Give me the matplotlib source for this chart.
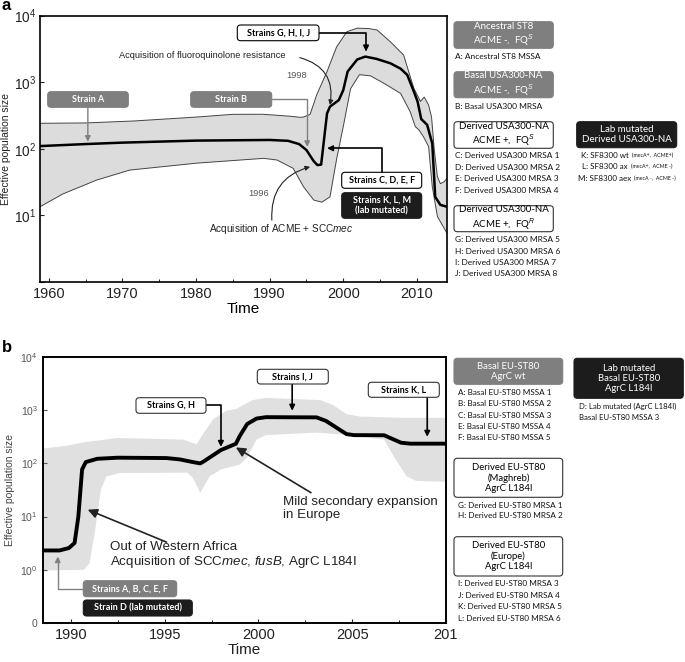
import numpy as np
import matplotlib.pyplot as plt
from matplotlib.patches import FancyBboxPatch

plt.rcParams['font.family'] = ['Liberation Sans', 'DejaVu Sans']
plt.rcParams['mathtext.fontset'] = 'custom'
plt.rcParams['mathtext.rm'] = 'Liberation Sans'
plt.rcParams['mathtext.it'] = 'Liberation Sans:italic'
plt.rcParams['mathtext.bf'] = 'Liberation Sans:bold'

# ---- panel a: USA300 skyline (year, effective population size) ----
a_med_year = [1958.8, 1965, 1970, 1980, 1990, 1992.5, 1994, 1995, 1996, 1996.5, 1997.0,
              1997.8, 1998.2, 1999.4, 2000.0, 2000.6, 2001.9, 2003.0, 2004.5, 2006.4,
              2007.8, 2008.7, 2009.6, 2010.1, 2010.6, 2011.4, 2012.1, 2012.5, 2013.2, 2014.1]
a_med = [110, 118, 124, 133, 136, 132, 118, 96, 65, 57, 58,
         340, 430, 540, 760, 1450, 2200, 2430, 2250, 1930,
         1600, 1290, 725, 515, 280, 230, 120, 19, 14.4, 13.5]

a_hi_year = [1958.8, 1965, 1971.5, 1980, 1985, 1989, 1992.8, 1994.1, 1994.6, 1995.5,
             1996.4, 1997.8, 1999.1, 2000.5, 2001.9, 2003.5, 2004.6, 2006.4, 2008.2,
             2009.6, 2010.5, 2011.0, 2011.6, 2012.0, 2012.4, 2012.8, 2013.2, 2013.7, 2014.1]
a_hi = [242, 245, 262, 300, 330, 331, 309, 298, 300, 330,
        650, 1450, 3400, 5750, 6500, 6400, 6100, 4060, 2570,
        810, 515, 600, 455, 300, 90, 38, 30, 32, 36]

a_lo_year = [1958.8, 1961.9, 1966.5, 1971.0, 1980.1, 1989.2, 1991.0, 1993.2, 1994.6,
             1996.0, 1997.1, 1998.2, 1999.1, 2000.0, 2001.0, 2002.2, 2003.7, 2005.5,
             2007.8, 2009.1, 2009.8, 2010.3, 2010.9, 2011.6, 2012.1, 2012.8, 2014.1]
a_lo = [13.5, 21, 34, 48, 61, 72, 68, 51, 27,
        17, 15.8, 19, 70, 215, 800, 1300, 1250, 970,
        680, 360, 215, 192, 152, 108, 27, 9.6, 5.4]

# ---- panel b: EU-ST80 skyline ----
b_med_year = [1988.5, 1989.4, 1989.9, 1990.2, 1990.4, 1990.6, 1990.8, 1991.4, 1992.5,
              1995.1, 1995.8, 1996.5, 1996.9, 1997.1, 1998.0, 1998.8, 1999.0, 1999.4,
              1999.9, 2000.4, 2003.1, 2003.6, 2004.7, 2005.1, 2006.7, 2007.6, 2008.1, 2010.0]
b_med = [2.31, 2.31, 2.57, 3.2, 10, 77, 106, 122, 128,
         126, 119, 106, 100, 110, 178, 234, 325, 550,
         697, 740, 733, 630, 355, 340, 338, 245, 235, 235]

b_hi_year = [1988.5, 1989.8, 1990.7, 1992.5, 1996.0, 1996.7, 1997.1, 1997.6, 1998.3,
             1998.8, 1999.7, 2000.4, 2003.3, 2004.0, 2004.7, 2005.4, 2007.6, 2010.0]
b_hi = [190, 215, 250, 300, 280, 228, 380, 680, 980,
        1050, 1550, 1700, 1550, 1240, 840, 760, 720, 720]

b_lo_year = [1988.5, 1990.7, 1991.0, 1991.3, 1991.6, 1991.9, 1992.6, 1996.2, 1996.5,
             1996.9, 1997.1, 1997.4, 1998.0, 1999.0, 1999.4, 1999.9, 2000.4, 2003.1,
             2004.9, 2006.7, 2007.2, 2007.9, 2008.4, 2010.0]
b_lo = [0.97, 1.0, 1.34, 5.7, 32, 57, 66, 67, 54,
        28, 37, 57, 77, 95, 129, 280, 340, 380,
        340, 280, 138, 57, 47, 45]

W, H = 685, 662
fig = plt.figure(figsize=(6.85, 6.62), dpi=100)
renderer = fig.canvas.get_renderer()


def fx(px):
    return px / W


def fy(py):
    return 1 - py / H


def box(x0, y0, x1, y1, fc, ec, txt, tc, size, weight='bold', family='Lato', ls=1.15):
    p = FancyBboxPatch((fx(x0), fy(y1)), (x1 - x0) / W, (y1 - y0) / H,
                       boxstyle='round,pad=0,rounding_size=0.005',
                       transform=fig.transFigure, fc=fc, ec=ec, lw=0.8, zorder=5)
    fig.add_artist(p)
    fig.text(fx((x0 + x1) / 2), fy((y0 + y1) / 2), txt, ha='center', va='center',
             color=tc, fontsize=size, fontweight=weight, family=family,
             linespacing=ls, zorder=6)


def elbow(ax, start, end, color, conn, lw=1.2, ms=8):
    ax.annotate('', xy=end, xytext=start,
                arrowprops=dict(arrowstyle='-|>', color=color, lw=lw, shrinkA=0, shrinkB=0,
                                mutation_scale=ms, connectionstyle=conn))


def note(px, py, txt, size=6.0, ha='left'):
    return fig.text(fx(px), fy(py), txt, fontsize=size, va='center', ha=ha,
                    family='Lato', color='#111111')


# ================= panel a =================
ax = fig.add_axes([fx(40), fy(282), (447 - 40) / W, (282 - 15.7) / H])
ax.fill(np.r_[a_hi_year, a_lo_year[::-1]], np.r_[a_hi, a_lo[::-1]],
        fc='#dcdcdc', ec='none', zorder=1)
ax.plot(a_hi_year, a_hi, color='#444444', lw=0.7, zorder=2)
ax.plot(a_lo_year, a_lo, color='#444444', lw=0.7, zorder=2)
ax.plot(a_med_year, a_med, color='black', lw=1.8, zorder=3)
ax.set_yscale('log')
ax.set_xlim(1958.8, 2014.1)
ax.set_ylim(1, 1e4)
ax.set_yticks([1, 10, 100, 1000, 10000])
ax.set_yticklabels(['', '$10^1$', '$10^2$', '$10^3$', '$10^4$'])
ax.yaxis.set_minor_locator(plt.NullLocator())
ax.set_xticks([1960, 1970, 1980, 1990, 2000, 2010])
ax.set_xticks(np.arange(1965, 2014, 10), minor=True)
ax.tick_params(direction='in', labelsize=10.5, colors='#222222', length=3)
ax.tick_params(axis='y', labelsize=9.8, pad=2.5)
ax.tick_params(which='minor', direction='in', length=2)
for s in ax.spines.values():
    s.set_linewidth(1.2)
ax.set_xlabel('Time', fontsize=11, labelpad=1)
ax.set_ylabel('Effective population size', fontsize=7.5, color='#222222')
ax.yaxis.set_label_coords(-0.071, 0.5)

# annotations in panel a
box(47.7, 91.7, 128.3, 107.3, '#7f7f7f', '#7f7f7f', 'Strain A', 'white', 6.5)
box(190.7, 91.7, 271.7, 107.3, '#7f7f7f', '#7f7f7f', 'Strain B', 'white', 6.5)
box(237.3, 25, 319, 40.7, 'white', 'black', 'Strains G, H, I, J', 'black', 6.5)
box(341.7, 172.3, 421.7, 188.3, 'white', 'black', 'Strains C, D, E, F', 'black', 6.5)
box(341.7, 192.7, 421.7, 218.3, '#1c1c1c', '#1c1c1c', 'Strains K, L, M\n(lab mutated)',
    'white', 6.5)

elbow(ax, (1965.3, 422), (1965.3, 128), '#808080', 'arc3,rad=0', lw=1.0)
elbow(ax, (1990.3, 556), (1995.1, 107), '#808080', 'angle,angleA=0,angleB=90,rad=0', lw=1.0)
elbow(ax, (1996.7, 5530), (2003.1, 2900), 'black', 'angle,angleA=0,angleB=90,rad=0')
elbow(ax, (2005.3, 44.6), (1997.8, 102), 'black', 'angle,angleA=90,angleB=0,rad=0')

ax.text(1980.9, 10 ** 3.40, 'Acquisition of fluoroquinolone resistance', ha='center',
        va='center', fontsize=6.7, color='#222222')
ax.annotate('', xy=(1998.2, 455), xytext=(1994.1, 10 ** 3.37),
            arrowprops=dict(arrowstyle='-|>', color='#222222', lw=0.8, shrinkA=0, shrinkB=0,
                            mutation_scale=7, connectionstyle='arc3,rad=-0.45'))
ax.text(1993.7, 10 ** 3.095, '1998', ha='center', va='center', fontsize=6.7, color='#555555')
ax.text(1988.5, 10 ** 1.33, '1996', ha='center', va='center', fontsize=6.7, color='#555555')
ax.text(1991.6, 10 ** 0.79, 'Acquisition of ACME + SCC$\\mathit{mec}$', ha='center',
        va='center', fontsize=7.2, color='#222222')
ax.annotate('', xy=(1995.5, 10 ** 1.73), xytext=(1990.3, 10 ** 0.93),
            arrowprops=dict(arrowstyle='-|>', color='#222222', lw=0.8, shrinkA=0, shrinkB=0,
                            mutation_scale=7, connectionstyle='arc3,rad=-0.4'))

fig.text(fx(2), fy(6), 'a', fontsize=12, fontweight='bold', va='center')

# right side legend, panel a
box(454, 21.7, 553.3, 48.3, '#7f7f7f', '#7f7f7f', 'Ancestral ST8\nACME -,  FQ$^S$',
    'white', 7.0, weight='normal')
note(455, 56.7, 'A: Ancestral ST8 MSSA')
box(454, 71.7, 553.3, 97.7, '#7f7f7f', '#7f7f7f', 'Basal USA300-NA\nACME -,  FQ$^S$',
    'white', 7.0, weight='normal')
note(455, 106.7, 'B: Basal USA300 MRSA')
box(454, 121.7, 553.3, 148.3, 'white', '#333333', 'Derived USA300-NA\nACME +,  FQ$^S$',
    'black', 7.0, weight='normal')
for i, t in enumerate(['C: Derived USA300 MRSA 1', 'D: Derived USA300 MRSA 2',
                       'E: Derived USA300 MRSA 3', 'F: Derived USA300 MRSA 4']):
    note(455, 155.7 + 11.45 * i, t)
box(454, 205.7, 553.3, 231.7, 'white', '#333333', 'Derived USA300-NA\nACME +,  FQ$^R$',
    'black', 7.0, weight='normal')
for i, t in enumerate(['G: Derived USA300 MRSA 5', 'H: Derived USA300 MRSA 6',
                       'I: Derived USA300 MRSA 7', 'J: Derived USA300 MRSA 8']):
    note(455, 240 + 11.3 * i, t)
box(576.7, 121.7, 676.7, 147.7, '#1c1c1c', '#1c1c1c', 'Lab mutated\nDerived USA300-NA',
    'white', 7.0, weight='normal')
# main label + small parenthetical, the pair centred under the black box
for py, t, s in [(155.7, 'K: SF8300 wt', '(mecA+,  ACME+)'),
                 (166.7, 'L: SF8300 ax', '(mecA+,  ACME -)'),
                 (178.3, 'M: SF8300 aex', '(mecA -,  ACME -)')]:
    t1 = note(0, py, t, 5.8)
    t2 = note(0, py, s, 3.8)
    w1 = t1.get_window_extent(renderer).width
    w2 = t2.get_window_extent(renderer).width
    x0 = 627 - (w1 + 3 + w2) / 2
    t1.set_x(fx(x0))
    t2.set_x(fx(x0 + w1 + 3))

# ================= panel b =================
bx = fig.add_axes([fx(42.7), fy(623), (446 - 42.7) / W, (623 - 357) / H])
bx.fill(np.r_[b_hi_year, b_lo_year[::-1]], np.r_[b_hi, b_lo[::-1]],
        fc='#e0e0e0', ec='none', zorder=1)
bx.plot(b_med_year, b_med, color='black', lw=2.8, zorder=3, solid_capstyle='butt')
bx.set_yscale('log')
bx.set_xlim(1988.5, 2010)
bx.set_ylim(0.1, 1e4)
bx.set_yticks([0.1, 1, 10, 100, 1000, 10000])
bx.set_yticklabels(['0', '$10^0$', '$10^1$', '$10^2$', '$10^3$', '$10^4$'])
bx.yaxis.set_minor_locator(plt.NullLocator())
bx.set_xticks([1990, 1995, 2000, 2005, 2010])
bx.set_xticklabels(['1990', '1995', '2000', '2005', '201'])
bx.set_xticks(np.arange(1992.5, 2010, 2.5), minor=True)
bx.tick_params(axis='x', direction='in', labelsize=10.5, colors='#222222', length=3)
bx.tick_params(axis='y', direction='in', labelsize=7.5, colors='#555555', length=3)
bx.tick_params(which='minor', direction='in', length=2)
for s in bx.spines.values():
    s.set_linewidth(1.4)
bx.set_xlabel('Time', fontsize=11, labelpad=1, color='#222222')
bx.set_ylabel('Effective population size', fontsize=7.5, color='#444444')
bx.yaxis.set_label_coords(-0.068, 0.5)

box(257.3, 369.3, 328.3, 384, 'white', '#333333', 'Strains I, J', 'black', 6.5)
box(368.3, 382.3, 439.3, 397.3, 'white', '#333333', 'Strains K, L', 'black', 6.5)
box(136, 397.7, 206, 413.3, 'white', '#333333', 'Strains G, H', 'black', 6.5)
box(83.3, 580.7, 176.7, 596.7, '#7f7f7f', '#7f7f7f', 'Strains A, B, C, E, F', 'white', 6.5)
box(83.3, 600, 192.3, 616, '#1c1c1c', '#1c1c1c', 'Strain D (lab mutated)', 'white', 6.5)

elbow(bx, (2001.8, 10 ** 3.51), (2001.8, 10 ** 2.99), 'black', 'arc3,rad=0')
elbow(bx, (2009.0, 10 ** 3.26), (2009.0, 10 ** 2.50), 'black', 'arc3,rad=0')
elbow(bx, (1997.2, 10 ** 3.10), (1998.0, 10 ** 2.31), 'black', 'angle,angleA=0,angleB=90,rad=0')
elbow(bx, (1990.7, 10 ** -0.353), (1989.3, 10 ** 0.25), '#808080',
      'angle,angleA=0,angleB=90,rad=0', lw=1.0)

bx.annotate('', xy=(1998.8, 10 ** 2.30), xytext=(2002.8, 10 ** 1.45),
            arrowprops=dict(arrowstyle='-|>', color='#222222', lw=1.2, shrinkA=0, shrinkB=0,
                            mutation_scale=14))
bx.text(2001.3, 10 ** 1.157, 'Mild secondary expansion\nin Europe', ha='left', va='center',
        fontsize=9.6, color='#222222', linespacing=1.1)
bx.annotate('', xy=(1990.9, 10 ** 1.13), xytext=(1995.1, 10 ** 0.52),
            arrowprops=dict(arrowstyle='-|>', color='#222222', lw=1.2, shrinkA=0, shrinkB=0,
                            mutation_scale=14))
bx.text(1992.1, 10 ** 0.27,
        'Out of Western Africa\nAcquisition of SCC$\\mathit{mec}$, $\\mathit{fusB}$, AgrC L184I',
        ha='left', va='center', fontsize=9.6, color='#222222', linespacing=1.1)

fig.text(fx(2), fy(348), 'b', fontsize=12, fontweight='bold', va='center')

# right side legend, panel b
box(454, 358.3, 562.7, 384.3, '#7f7f7f', '#7f7f7f', 'Basal EU-ST80\nAgrC wt',
    'white', 6.8, weight='normal')
for i, t in enumerate(['A: Basal EU-ST80 MSSA 1', 'B: Basal EU-ST80 MSSA 2',
                       'C: Basal EU-ST80 MSSA 3', 'E: Basal EU-ST80 MSSA 4',
                       'F: Basal EU-ST80 MSSA 5']):
    note(458, 392.3 + 11.35 * i, t, 5.9)
box(454, 458.3, 562.7, 497.3, 'white', '#333333', 'Derived EU-ST80\n(Maghreb)\nAgrC L184I',
    'black', 6.8, weight='normal')
for i, t in enumerate(['G: Derived EU-ST80 MRSA 1', 'H: Derived EU-ST80 MRSA 2']):
    note(458, 505 + 11 * i, t, 5.9)
box(454, 536.7, 562.7, 576, 'white', '#333333', 'Derived EU-ST80\n(Europe)\nAgrC L184I',
    'black', 6.8, weight='normal')
for i, t in enumerate(['I: Derived EU-ST80 MRSA 3', 'J: Derived EU-ST80 MRSA 4',
                       'K: Derived EU-ST80 MRSA 5', 'L: Derived EU-ST80 MRSA 6']):
    note(458, 584 + 11.45 * i, t, 5.9)
box(574, 358.3, 683.3, 398.3, '#1c1c1c', '#1c1c1c', 'Lab mutated\nBasal EU-ST80\nAgrC L184I',
    'white', 6.8, weight='normal')
note(579, 406, 'D: Lab mutated (AgrC L184I)', 5.6)
note(579, 417.3, 'Basal EU-ST80 MSSA 3', 5.6)

fig.savefig('out.png', dpi=100)
